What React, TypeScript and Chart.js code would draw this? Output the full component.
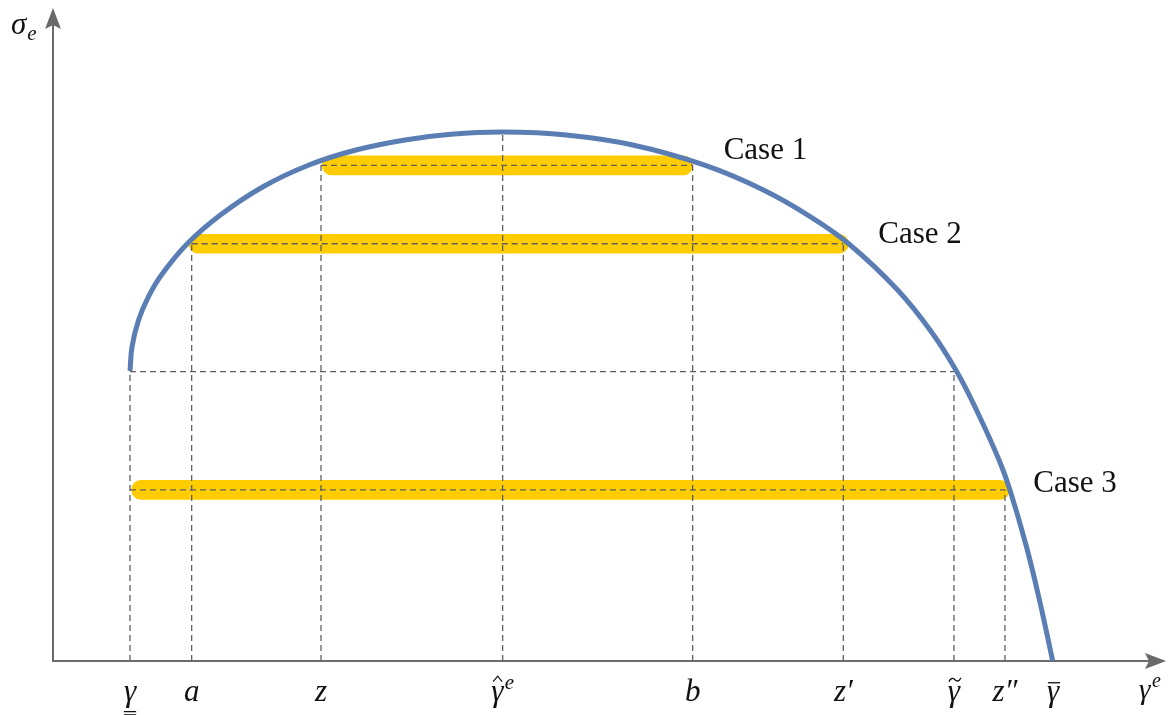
import React, { useEffect, useRef } from "react";
import { Chart, registerables } from "chart.js";

Chart.register(...registerables);

// ---- data (axis units: both axes run 0..100) ----
const tickValues = [6.92, 12.46, 24.08, 40.4, 57.47, 71.01, 80.95, 85.53, 89.85];
const tickBase = ["γ", "a", "z", "γ", "b", "z", "γ", "z", "γ"];
const tickAccent = ["underline2", "", "", "hat", "", "", "tilde", "", "bar"];
const tickSuffix = ["", "", "", "e", "", "′", "", "″", ""];

const curveX = [
  6.92, 7.1, 7.69, 8.58, 9.74, 12.04, 15.04, 18.87, 23.0, 27.22, 31.63, 35.76, 40.46,
  46.09, 52.09, 58.49, 63.83, 68.1, 71.52, 75.89, 78.93, 81.22, 82.97, 85.0, 85.98,
  87.47, 88.63, 89.82,
];
const curveY = [
  44.41, 48.13, 52.22, 55.79, 59.11, 63.86, 68.3, 72.63, 75.96, 78.25, 79.79, 80.66, 81.0,
  80.55, 79.02, 75.96, 72.13, 67.99, 63.86, 56.81, 50.38, 44.26, 38.44, 30.78, 26.19,
  17.46, 9.34, 0,
];

const caseLabels = ["Case 1", "Case 2", "Case 3"];
const caseLevel = [75.9, 63.9, 26.2];
const caseFrom = [24.2, 12.22, 7.07];
const caseTo = [57.47, 71.46, 85.92];

// dashed guides
const guideTop = [44.3, 63.9, 75.9, 80.96, 75.9, 63.9, 44.3, 26.2]; // verticals for first 8 ticks
const guideLevel = [75.9, 63.9, 44.3, 26.2];
const guideFrom = [24.08, 12.46, 6.92, 6.92];
const guideTo = [57.47, 71.01, 80.95, 85.53];

// ---- styles ----
const SERIF = '"Liberation Serif", "DejaVu Serif", serif';
const AXIS = "#6a6a6a";
const GUIDE = "#5f5f5f";
const BLUE = "#5a7db4";
const GOLD = "#ffcc00";
const TEXT = "#111111";
const caseLabelDx = [31, 30, 24];
const caseLabelDy = [-6, -1, 2];

function drawMath(
  ctx: CanvasRenderingContext2D,
  cx: number,
  baseline: number,
  base: string,
  accent: string,
  suffix: string,
  size: number,
  center = true
) {
  const f = `italic ${size}px ${SERIF}`;
  const fs = `italic ${Math.round(size * 0.68)}px ${SERIF}`;
  ctx.font = f;
  const bw = ctx.measureText(base).width;
  let sw = 0;
  if (suffix === "e") {
    ctx.font = fs;
    sw = ctx.measureText("e").width + 1.5;
  } else if (suffix) {
    ctx.font = f;
    sw = ctx.measureText(suffix).width;
  }
  const left = center ? cx - (bw + sw) / 2 : cx;
  ctx.textAlign = "left";
  ctx.textBaseline = "alphabetic";
  ctx.fillStyle = TEXT;
  ctx.font = f;
  ctx.fillText(base, left, baseline);
  if (suffix === "e") {
    ctx.font = fs;
    ctx.fillText("e", left + bw + 1.5, baseline - size * 0.4);
  } else if (suffix) {
    ctx.font = f;
    ctx.fillText(suffix, left + bw, baseline);
  }
  const xh = size * 0.46;
  const mid = left + bw / 2 + size * 0.03;
  ctx.strokeStyle = TEXT;
  ctx.lineWidth = 1.3;
  ctx.lineCap = "butt";
  if (accent === "underline2") {
    ctx.beginPath();
    ctx.moveTo(left, baseline + size * 0.345);
    ctx.lineTo(left + bw, baseline + size * 0.345);
    ctx.moveTo(left, baseline + size * 0.45);
    ctx.lineTo(left + bw, baseline + size * 0.45);
    ctx.stroke();
  } else if (accent === "bar") {
    const y = baseline - xh - 4;
    ctx.beginPath();
    ctx.moveTo(left + 1, y);
    ctx.lineTo(left + bw + 1, y);
    ctx.stroke();
  } else if (accent === "hat") {
    const y = baseline - xh - 5;
    ctx.lineWidth = 1.2;
    ctx.beginPath();
    ctx.moveTo(mid - 5, y);
    ctx.lineTo(mid - 0.5, y - 5.5);
    ctx.lineTo(mid + 4, y);
    ctx.stroke();
  } else if (accent === "tilde") {
    const y = baseline - xh - 7;
    ctx.lineWidth = 1.3;
    ctx.beginPath();
    ctx.moveTo(mid - 6, y + 2);
    ctx.bezierCurveTo(mid - 4, y - 2.5, mid - 1.5, y - 1.5, mid, y);
    ctx.bezierCurveTo(mid + 1.5, y + 1.5, mid + 4, y + 2.5, mid + 6, y - 2);
    ctx.stroke();
  }
}

const axesPlugin = {
  id: "mathAxes",
  beforeDatasetsDraw(chart: any) {
    const { ctx, scales } = chart;
    const x0 = scales.x.getPixelForValue(0);
    const y0 = scales.y.getPixelForValue(0);
    const xEnd = scales.x.getPixelForValue(100);
    const yEnd = scales.y.getPixelForValue(100);
    ctx.save();
    ctx.strokeStyle = AXIS;
    ctx.fillStyle = AXIS;
    ctx.lineWidth = 2;
    ctx.beginPath();
    ctx.moveTo(x0, y0);
    ctx.lineTo(xEnd - 15, y0);
    ctx.moveTo(x0, y0 + 1);
    ctx.lineTo(x0, yEnd + 15);
    ctx.stroke();
    // x arrow
    ctx.beginPath();
    ctx.moveTo(xEnd, y0);
    ctx.lineTo(xEnd - 21, y0 - 8);
    ctx.lineTo(xEnd - 17, y0);
    ctx.lineTo(xEnd - 21, y0 + 8);
    ctx.closePath();
    ctx.fill();
    // y arrow
    ctx.beginPath();
    ctx.moveTo(x0, yEnd);
    ctx.lineTo(x0 - 8, yEnd + 21);
    ctx.lineTo(x0, yEnd + 17);
    ctx.lineTo(x0 + 8, yEnd + 21);
    ctx.closePath();
    ctx.fill();
    ctx.restore();
  },
  afterDraw(chart: any) {
    const { ctx, scales } = chart;
    const sx = scales.x;
    const sy = scales.y;
    const y0 = sy.getPixelForValue(0);
    ctx.save();
    // tick labels
    tickValues.forEach((v, i) => {
      drawMath(ctx, sx.getPixelForValue(v), y0 + 40, tickBase[i], tickAccent[i], tickSuffix[i], 31);
    });
    // axis titles
    const xEnd = sx.getPixelForValue(100);
    drawMath(ctx, xEnd - 27, y0 + 38, "γ", "", "e", 29, false);
    const x0 = sx.getPixelForValue(0);
    const yEnd = sy.getPixelForValue(100);
    ctx.font = `italic 31px ${SERIF}`;
    ctx.fillStyle = TEXT;
    ctx.textAlign = "left";
    ctx.textBaseline = "alphabetic";
    ctx.fillText("σ", x0 - 42, yEnd + 26);
    const sw = ctx.measureText("σ").width;
    ctx.font = `italic 21px ${SERIF}`;
    ctx.fillText("e", x0 - 42 + sw + 1, yEnd + 32);
    // case labels
    ctx.font = `31px ${SERIF}`;
    caseLabels.forEach((t, i) => {
      ctx.fillText(
        t,
        sx.getPixelForValue(caseTo[i]) + caseLabelDx[i],
        sy.getPixelForValue(caseLevel[i]) + caseLabelDy[i]
      );
    });
    ctx.restore();
  },
};

export default function App() {
  const ref = useRef<HTMLCanvasElement | null>(null);
  useEffect(() => {
    if (!ref.current) return;
    const dashed = { borderColor: GUIDE, borderWidth: 1.3, borderDash: [6, 4], pointRadius: 0, showLine: true, clip: false as any, order: 2 };
    const datasets: any[] = [];
    datasets.push({
      type: "scatter",
      data: curveX.map((x, i) => ({ x, y: curveY[i] })),
      showLine: true,
      borderColor: BLUE,
      borderWidth: 5,
      pointRadius: 0,
      tension: 0.4,
      borderCapStyle: "butt",
      borderJoinStyle: "round",
      clip: false,
      order: 0,
    });
    guideTop.forEach((top, i) => {
      datasets.push({
        type: "scatter",
        ...dashed,
        data: [
          { x: tickValues[i], y: 0 },
          { x: tickValues[i], y: top },
        ],
      });
    });
    guideLevel.forEach((lv, i) => {
      datasets.push({
        type: "scatter",
        ...dashed,
        data: [
          { x: guideFrom[i], y: lv },
          { x: guideTo[i], y: lv },
        ],
      });
    });
    datasets.push({
      type: "bar",
      indexAxis: "y",
      data: caseLevel.map((lv, i) => ({ x: [caseFrom[i], caseTo[i]], y: lv })),
      backgroundColor: GOLD,
      borderWidth: 0,
      barThickness: 19,
      borderRadius: 10,
      borderSkipped: false,
      clip: false,
      order: 3,
    });

    const chart = new Chart(ref.current, {
      type: "scatter",
      data: { datasets },
      options: {
        responsive: false,
        animation: false,
        devicePixelRatio: 1,
        events: [],
        layout: { padding: { left: 53, right: 4, top: 8, bottom: 54 } },
        scales: {
          x: { type: "linear", min: 0, max: 100, display: false, offset: false, grid: { display: false } },
          y: { type: "linear", min: 0, max: 100, display: false, offset: false, grid: { display: false } },
        },
        plugins: { legend: { display: false }, tooltip: { enabled: false } },
      } as any,
      plugins: [axesPlugin],
    });
    return () => chart.destroy();
  }, []);
  return (
    <div style={{ position: "fixed", left: 0, top: 0, width: 1170, height: 715, background: "#fff" }}>
      <canvas ref={ref} width={1170} height={715} style={{ display: "block" }} />
    </div>
  );
}
